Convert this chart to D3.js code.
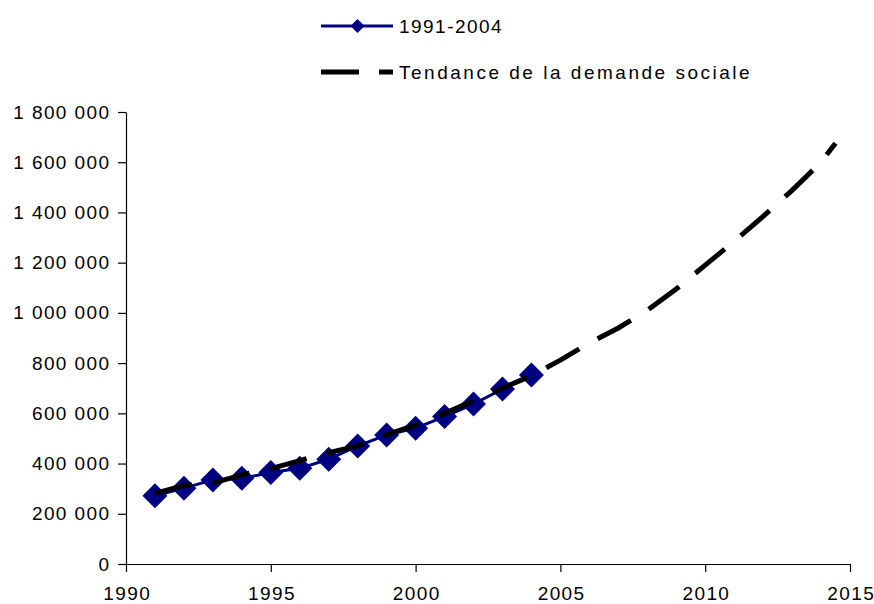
<!DOCTYPE html>
<html>
<head>
<meta charset="utf-8">
<script src="https://cdn.jsdelivr.net/npm/d3@7"></script>
<style>
  html, body { margin: 0; padding: 0; background: #fff; }
  svg { display: block; }
  text { font-family: "Liberation Sans", Arial, sans-serif; font-size: 19px; fill: #000; letter-spacing: 1.4px; }
</style>
</head>
<body>
<svg id="chart" width="874" height="604"></svg>
<script>
// ---- Data ----
const years = [1991, 1992, 1993, 1994, 1995, 1996, 1997, 1998, 1999, 2000, 2001, 2002, 2003, 2004];
const values = [272000, 302000, 335000, 341000, 364000, 381000, 417000, 470000, 514000, 541000, 587000, 637000, 697000, 753000];

const trendYears = [1991, 1992, 1993, 1994, 1995, 1996, 1997, 1998, 1999, 2000, 2001, 2002, 2003, 2004, 2005, 2006, 2007, 2008, 2009, 2010, 2011, 2012, 2013, 2014, 2014.5];
const trendValues = [281000, 313000, 322000, 355000, 380000, 412000, 443000, 470000, 515000, 553000, 600000, 650000, 700000, 750000, 812000, 880000, 940000, 1010000, 1095000, 1190000, 1285000, 1384000, 1488000, 1600000, 1676000];

const xTicks = [1990, 1995, 2000, 2005, 2010, 2015];
const yTicks = [0, 200000, 400000, 600000, 800000, 1000000, 1200000, 1400000, 1600000, 1800000];

const seriesNames = ["1991-2004", "Tendance de la demande sociale"];

// ---- Chart ----
const svg = d3.select("#chart");
svg.append("rect").attr("width", 874).attr("height", 604).attr("fill", "#fff");

const x = d3.scaleLinear().domain([1990, 2015]).range([126, 850]);
const y = d3.scaleLinear().domain([0, 1800000]).range([564, 112]);

const fmt = d3.formatLocale({ decimal: ",", thousands: " ", grouping: [3], currency: ["", ""] }).format(",d");

const navy = "#000080";

// Axes
const yAxis = svg.append("g").attr("transform", `translate(${x(1990)},0)`)
  .call(d3.axisLeft(y).tickValues(yTicks).tickSize(8).tickSizeOuter(0).tickPadding(9).tickFormat(fmt));
const xAxis = svg.append("g").attr("transform", `translate(0,${y(0)})`)
  .call(d3.axisBottom(x).tickValues(xTicks).tickSize(8).tickSizeOuter(0).tickPadding(15).tickFormat(d3.format("d")));

[yAxis, xAxis].forEach(g => {
  g.selectAll("path.domain").attr("stroke", "#000").attr("stroke-width", 1.2);
  g.selectAll(".tick line").attr("stroke", "#000").attr("stroke-width", 1.2);
  g.selectAll("text").attr("font-size", 19).attr("font-family", "\"Liberation Sans\", Arial, sans-serif").attr("fill", "#000");
});
xAxis.selectAll("text").attr("dx", "0.7");
yAxis.selectAll("text").attr("dx", "1.4");

// Data series
const data = years.map((yr, i) => ({ yr, v: values[i] }));
const line = d3.line().x(d => x(d.yr)).y(d => y(d.v));
svg.append("path").datum(data)
  .attr("fill", "none").attr("stroke", navy).attr("stroke-width", 3).attr("d", line);

const diamond = (r) => `M0,${-r}L${r},0L0,${r}L${-r},0Z`;
svg.append("g").selectAll("path").data(data).join("path")
  .attr("transform", d => `translate(${x(d.yr)},${y(d.v)})`)
  .attr("d", diamond(12.5))
  .attr("fill", navy);

// Trend series
const trend = trendYears.map((yr, i) => ({ yr, v: trendValues[i] }));
svg.append("path").datum(trend)
  .attr("fill", "none").attr("stroke", "#000").attr("stroke-width", 5)
  .attr("stroke-dasharray", "38,21")
  .attr("d", line);

// Legend
const lg = svg.append("g");
lg.append("line").attr("x1", 321).attr("x2", 393).attr("y1", 26).attr("y2", 26)
  .attr("stroke", navy).attr("stroke-width", 3);
lg.append("path").attr("transform", "translate(357.5,26)").attr("d", diamond(7)).attr("fill", navy);
lg.append("text").attr("x", 399).attr("y", 26).attr("dy", "0.35em")
  .attr("textLength", 104).attr("lengthAdjust", "spacing").text(seriesNames[0]);

lg.append("line").attr("x1", 321).attr("x2", 393).attr("y1", 72).attr("y2", 72)
  .attr("stroke", "#000").attr("stroke-width", 5).attr("stroke-dasharray", "38,20");
lg.append("text").attr("x", 399).attr("y", 72).attr("dy", "0.35em")
  .attr("textLength", 352).attr("lengthAdjust", "spacing").text(seriesNames[1]);
</script>
</body>
</html>
